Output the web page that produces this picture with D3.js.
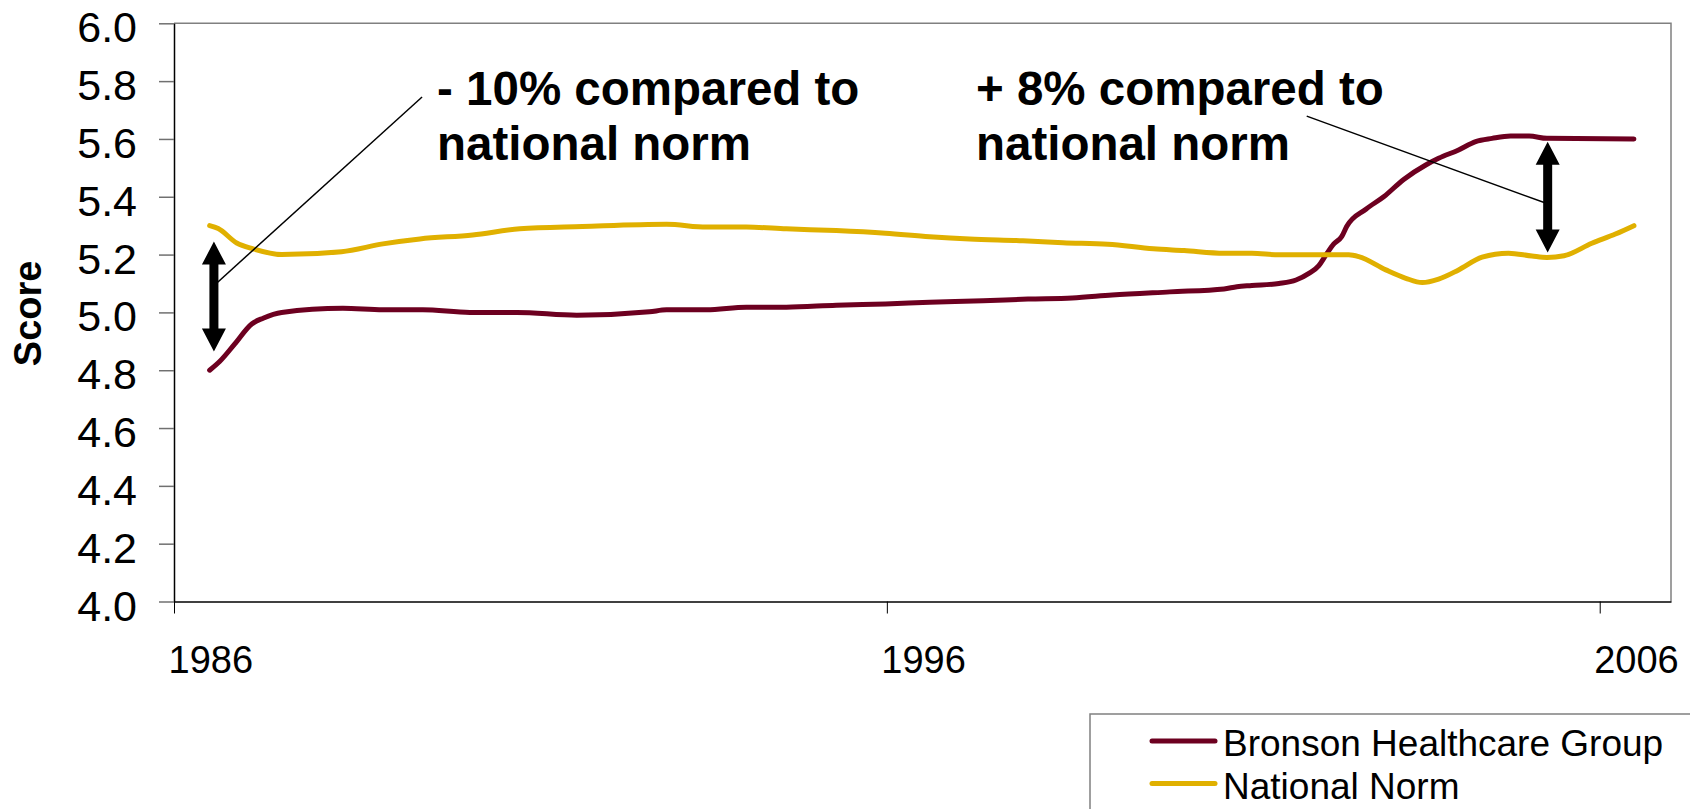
<!DOCTYPE html>
<html>
<head>
<meta charset="utf-8">
<script src="https://cdn.jsdelivr.net/npm/d3@7"></script>
<style>
  html, body { margin: 0; padding: 0; background: #fff; }
  svg { display: block; font-family: "Liberation Sans", Arial, Helvetica, sans-serif; }
</style>
</head>
<body>
<svg id="chart" width="1690" height="809"></svg>
<script>
// Yearly satisfaction scores, Bronson Healthcare Group vs. national norm
const bronsonYears = [1986.50, 1986.64, 1986.85, 1987.09, 1987.25, 1987.51, 1988.37, 1988.93, 1989.49, 1990.15,
  1990.81, 1991.65, 1992.67, 1992.91, 1993.47, 1994.03, 1994.59, 1995.29, 1995.98, 1996.60,
  1997.35, 1997.98, 1998.60, 1999.16, 1999.97, 2000.73, 2000.91, 2001.12, 2001.50, 2001.74,
  2001.92, 2002.06, 2002.16, 2002.27, 2002.38, 2002.45, 2002.72, 2002.97, 2003.25, 2003.56,
  2003.74, 2004.02, 2004.26, 2004.49, 2004.75, 2005.01, 2005.26, 2006.48];
const bronsonScores = [4.80, 4.83, 4.89, 4.96, 4.98, 5.00, 5.014, 5.009, 5.009, 5.00,
  5.00, 4.99, 5.002, 5.009, 5.009, 5.018, 5.018, 5.025, 5.029, 5.035,
  5.04, 5.046, 5.05, 5.06, 5.071, 5.081, 5.089, 5.093, 5.10, 5.112,
  5.135, 5.162, 5.199, 5.237, 5.262, 5.297, 5.357, 5.40, 5.46, 5.51,
  5.533, 5.562, 5.591, 5.602, 5.61, 5.61, 5.602, 5.60];

const normYears = [1986.50, 1986.62, 1986.88, 1987.11, 1987.51, 1988.35, 1988.93, 1989.45, 1990.19, 1990.85,
  1991.73, 1992.91, 1993.47, 1994.03, 1994.59, 1995.29, 1995.98, 1996.60, 1997.16, 1997.91,
  1998.47, 1999.10, 1999.74, 2000.17, 2000.73, 2001.12, 2001.50, 2002.48, 2002.62, 2003.00,
  2003.28, 2003.51, 2003.74, 2004.02, 2004.35, 2004.72, 2005.05, 2005.26, 2005.50, 2005.89,
  2006.22, 2006.48];
const normScores = [5.30, 5.29, 5.24, 5.22, 5.20, 5.21, 5.237, 5.254, 5.268, 5.289,
  5.297, 5.305, 5.295, 5.295, 5.289, 5.283, 5.274, 5.262, 5.254, 5.248,
  5.241, 5.236, 5.22, 5.214, 5.205, 5.205, 5.199, 5.199, 5.193, 5.147,
  5.118, 5.103, 5.115, 5.147, 5.191, 5.205, 5.195, 5.19, 5.196, 5.239,
  5.271, 5.30];

const yTicks = [4.0, 4.2, 4.4, 4.6, 4.8, 5.0, 5.2, 5.4, 5.6, 5.8, 6.0];
const xTicks = [1986, 1996, 2006];

const seriesNames = ["Bronson Healthcare Group", "National Norm"];
const seriesColors = ["#6d0020", "#e0b000"];

// Gap callouts: [year, from score, to score]
const gapArrows = [[1986.56, 5.245, 4.865], [2005.27, 5.59, 5.207]];
const calloutLines = [[[1986.57, 5.095], [1989.48, 5.745]], [[2005.22, 5.38], [2001.89, 5.679]]];
const calloutText = [
  {year: 1989.69, score: 5.717, lines: ["- 10% compared to", "national norm"]},
  {year: 1997.25, score: 5.717, lines: ["+ 8% compared to", "national norm"]}
];

const svg = d3.select("#chart");
const x = d3.scaleLinear().domain([1986, 2007]).range([174, 1671]);
const y = d3.scaleLinear().domain([4, 6]).range([601.5, 23.3]);

// plot area frame (top and right)
svg.append("path")
  .attr("d", `M${x(1986)},${y(6)}H${x(2007)}V${y(4)}`)
  .attr("fill", "none").attr("stroke", "#808080").attr("stroke-width", 1.5);

// y axis
const yAxis = svg.append("g").attr("transform", `translate(${x(1986)},0)`)
  .call(d3.axisLeft(y).tickValues(yTicks).tickFormat(d3.format(".1f")).tickSize(15).tickSizeOuter(0));
yAxis.select(".domain").attr("stroke", "#000").attr("stroke-width", 1.5);
yAxis.selectAll(".tick line").attr("stroke", "#707070").attr("stroke-width", 1.5);
yAxis.selectAll(".tick text")
  .attr("x", -37).attr("dy", "0.43em")
  .attr("font-size", 43).attr("font-family", "Liberation Sans, Arial, sans-serif").attr("fill", "#000");

// x axis
const xAxis = svg.append("g").attr("transform", `translate(0,${y(4)})`)
  .call(d3.axisBottom(x).tickValues(xTicks).tickFormat(d3.format("d")).tickSize(12).tickSizeOuter(0));
xAxis.select(".domain").attr("stroke", "#000").attr("stroke-width", 1.5);
xAxis.selectAll(".tick line").attr("stroke", "#000").attr("stroke-width", 1);
xAxis.selectAll(".tick text")
  .attr("text-anchor", "start").attr("x", -6).attr("y", 71).attr("dy", 0)
  .attr("font-size", 38).attr("font-family", "Liberation Sans, Arial, sans-serif").attr("fill", "#000");

// y axis title
svg.append("text")
  .attr("transform", `translate(41,${(y(4) + y(6)) / 2 + 1}) rotate(-90)`)
  .attr("text-anchor", "middle")
  .attr("font-size", 38).attr("font-weight", "bold")
  .text("Score");

// series lines
const line = d3.line().x(d => x(d[0])).y(d => y(d[1])).curve(d3.curveMonotoneX);
const series = [
  d3.zip(bronsonYears, bronsonScores),
  d3.zip(normYears, normScores)
];
series.forEach((pts, i) => {
  svg.append("path").datum(pts)
    .attr("d", line)
    .attr("fill", "none")
    .attr("stroke", seriesColors[i])
    .attr("stroke-width", 5)
    .attr("stroke-linecap", "round")
    .attr("stroke-linejoin", "round");
});

// callout leader lines
calloutLines.forEach(seg => {
  svg.append("line")
    .attr("x1", x(seg[0][0])).attr("y1", y(seg[0][1]))
    .attr("x2", x(seg[1][0])).attr("y2", y(seg[1][1]))
    .attr("stroke", "#000").attr("stroke-width", 1.5);
});

// double-headed gap arrows
function doubleArrow(cx, yTop, yBot) {
  const hw = 12, hl = 23, sw = 4.5;
  return `M${cx},${yTop} L${cx + hw},${yTop + hl} L${cx + sw},${yTop + hl} L${cx + sw},${yBot - hl} L${cx + hw},${yBot - hl}` +
         ` L${cx},${yBot} L${cx - hw},${yBot - hl} L${cx - sw},${yBot - hl} L${cx - sw},${yTop + hl} L${cx - hw},${yTop + hl} Z`;
}
gapArrows.forEach(a => {
  svg.append("path").attr("d", doubleArrow(x(a[0]), y(a[1]), y(a[2]))).attr("fill", "#000");
});

// callout labels
calloutText.forEach(c => {
  const t = svg.append("text")
    .attr("x", x(c.year)).attr("y", y(c.score))
    .attr("font-size", 47.5).attr("font-weight", "bold").attr("fill", "#000");
  c.lines.forEach((s, k) => {
    t.append("tspan").attr("x", x(c.year)).attr("dy", k === 0 ? 0 : 55).text(s);
  });
});

// legend
const legend = svg.append("g").attr("transform", "translate(1090,714)");
legend.append("rect")
  .attr("x", 0).attr("y", 0).attr("width", 700).attr("height", 200)
  .attr("fill", "#fff").attr("stroke", "#808080").attr("stroke-width", 1.5);
seriesNames.forEach((name, i) => {
  const ly = 27 + i * 42.5;
  legend.append("line")
    .attr("x1", 62).attr("x2", 125).attr("y1", ly).attr("y2", ly)
    .attr("stroke", seriesColors[i]).attr("stroke-width", 5).attr("stroke-linecap", "round");
  legend.append("text")
    .attr("x", 133).attr("y", ly + 15)
    .attr("font-size", 37).attr("fill", "#000")
    .text(name);
});
</script>
</body>
</html>
